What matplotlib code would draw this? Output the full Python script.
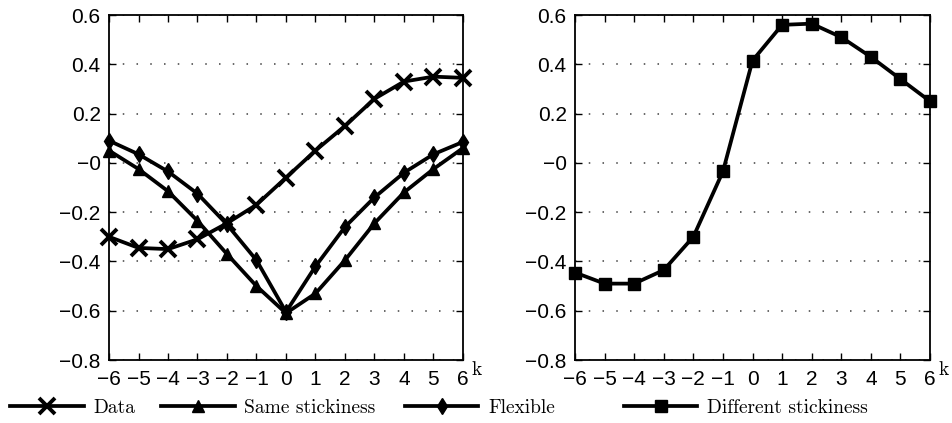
import matplotlib
matplotlib.use('Agg')
import matplotlib.pyplot as plt

# 数据
k = [-6, -5, -4, -3, -2, -1, 0, 1, 2, 3, 4, 5, 6]
data = [-0.30, -0.345, -0.35, -0.31, -0.245, -0.17, -0.06, 0.05, 0.15, 0.26, 0.33, 0.35, 0.345]
same_stick = [0.05, -0.025, -0.115, -0.235, -0.37, -0.50, -0.61, -0.53, -0.395, -0.245, -0.12, -0.025, 0.06]
flexible = [0.09, 0.035, -0.035, -0.125, -0.25, -0.395, -0.605, -0.42, -0.26, -0.14, -0.04, 0.035, 0.085]
diff_stick = [-0.445, -0.49, -0.49, -0.435, -0.30, -0.035, 0.415, 0.56, 0.565, 0.51, 0.43, 0.34, 0.25]

yticks = [-0.8, -0.6, -0.4, -0.2, 0.0, 0.2, 0.4, 0.6]
ytick_labels = ['\u22120.8', '\u22120.6', '\u22120.4', '\u22120.2', '\u22120', '0.2', '0.4', '0.6']
xtick_labels = ['\u22126', '\u22125', '\u22124', '\u22123', '\u22122', '\u22121', '0', '1', '2', '3', '4', '5', '6']

plt.rcParams['font.family'] = ['Liberation Sans', 'DejaVu Sans']
LW = 2.7

fig = plt.figure(figsize=(9.52, 4.23), dpi=100)
ax1 = fig.add_axes([0.1145, 0.1489, 0.3718, 0.8156])
ax2 = fig.add_axes([0.604, 0.1489, 0.3729, 0.8156])


def style_axis(ax):
    ax.set_xlim(-6, 6)
    ax.set_ylim(-0.8, 0.6)
    ax.set_xticks(k)
    ax.set_xticklabels(xtick_labels)
    ax.set_yticks(yticks)
    ax.set_yticklabels(ytick_labels)
    ax.tick_params(direction='in', top=True, right=True, length=5, width=1,
                   labelsize=15)
    ax.tick_params(axis='x', pad=7)
    ax.tick_params(axis='y', pad=6)
    for s in ax.spines.values():
        s.set_linewidth(1.3)
    ax.yaxis.grid(True, linestyle=(0, (1, 8)), color='0.25', linewidth=1.1)
    ax.set_axisbelow(True)
    ax.annotate('k', xy=(1, 0), xycoords='axes fraction', xytext=(6, -7),
                textcoords='offset points', fontfamily='cmr10', fontsize=14,
                ha='left', va='center')


# 左图
l_data, = ax1.plot(k, data, 'k-', lw=LW, marker='x', ms=12, mew=2.8, clip_on=False)
l_same, = ax1.plot(k, same_stick, 'k-', lw=LW, marker='^', ms=9, clip_on=False)
l_flex, = ax1.plot(k, flexible, 'k-', lw=LW, marker='d', ms=8.5, clip_on=False)
style_axis(ax1)

# 右图
l_diff, = ax2.plot(k, diff_stick, 'k-', lw=LW, marker='s', ms=8, clip_on=False)
style_axis(ax2)

# 图例 (分别放置)
entries = [(l_data, 'Data', 0.0105), (l_same, 'Same stickiness', 0.169),
           (l_flex, 'Flexible', 0.425), (l_diff, 'Different stickiness', 0.655)]
for h, lab, x in entries:
    fig.legend([h], [lab], loc='center left', bbox_to_anchor=(x, 0.036),
               frameon=False, handlelength=3.8, handletextpad=0.5, borderpad=0,
               borderaxespad=0, prop={'family': 'cmr10', 'size': 14})

fig.savefig('out.png', dpi=100)
